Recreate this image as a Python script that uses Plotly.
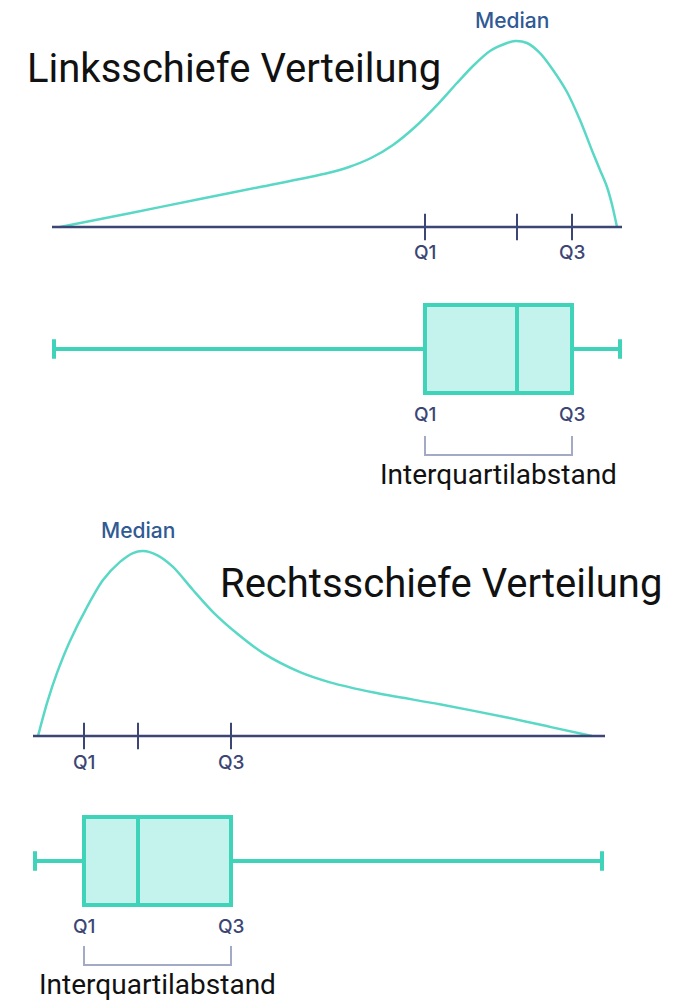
import plotly.graph_objects as go

# --- data -------------------------------------------------------------
# left-skewed density (x position, relative height)
left_x = [60, 131, 200, 260, 328, 349, 371, 393, 415, 437, 457, 473, 490,
          507, 515, 527, 540, 553, 567, 580, 593, 600, 607, 612, 617]
left_y = [0, 0.075, 0.15, 0.214, 0.289, 0.321, 0.369, 0.439, 0.535, 0.652,
          0.770, 0.861, 0.941, 0.984, 0.995, 0.984, 0.930, 0.840, 0.722,
          0.572, 0.396, 0.305, 0.214, 0.120, 0]
left_axis = [52, 622]
left_quart = [425, 517, 572]          # Q1, median, Q3
left_fence = [54, 620]

# right-skewed density
right_x = [38, 47, 57, 70, 87, 103, 120, 133, 143, 157, 173, 193, 213, 238,
           264, 300, 330, 374, 441, 507, 551, 592]
right_y = [0, 0.178, 0.341, 0.514, 0.697, 0.843, 0.941, 0.989, 1.0, 0.978,
           0.914, 0.789, 0.670, 0.550, 0.445, 0.345, 0.290, 0.235, 0.170,
           0.100, 0.048, 0]
right_axis = [33, 605]
right_quart = [84, 138, 231]
right_fence = [35, 602]

q_labels = ["Q1", "Q3"]

CURVE = "#5ad8c6"
BOX_LINE = "#3fd4b9"
BOX_FILL = "#c3f3ec"
NAVY = "#3b4675"
MED_BLUE = "#2f5a93"
BRACKET = "#a3aac6"
FONT = "Roboto"

# the page puts the plot 8px in from the top-left corner
OFF = 8
W, H = 683 - OFF, 1000 - OFF


def py(p):
    """page pixel row -> paper fraction"""
    return 1 - (p - OFF) / H


def dom(p_top, p_bottom):
    return [py(p_bottom), py(p_top)]


fig = go.Figure()


def add_panel(curve_x, curve_y, axis_ends, quart, fence, yc, yb):
    # density curve
    fig.add_trace(go.Scatter(
        x=curve_x, y=curve_y, mode="lines",
        line=dict(color=CURVE, width=2.5, shape="spline", smoothing=0.8),
        yaxis=yc, hoverinfo="skip"))
    # baseline
    fig.add_trace(go.Scatter(
        x=axis_ends, y=[0, 0], mode="lines", line=dict(color=NAVY, width=2.5),
        yaxis=yc, hoverinfo="skip"))
    # quartile ticks
    fig.add_trace(go.Scatter(
        x=quart, y=[0] * len(quart), mode="markers", cliponaxis=False,
        marker=dict(symbol="line-ns", size=19, line=dict(color=NAVY, width=2)),
        yaxis=yc, hoverinfo="skip"))
    # box plot
    fig.add_trace(go.Box(
        y=[0], q1=[quart[0]], median=[quart[1]], q3=[quart[2]],
        lowerfence=[fence[0]], upperfence=[fence[1]], orientation="h",
        width=1, whiskerwidth=0.22, fillcolor=BOX_FILL,
        line=dict(color=BOX_LINE, width=4), boxpoints=False,
        yaxis=yb, hoverinfo="skip"))


add_panel(left_x, left_y, left_axis, left_quart, left_fence, "y", "y2")
add_panel(right_x, right_y, right_axis, right_quart, right_fence, "y3", "y4")

annotations = []
QFONT = dict(family="Inter", size=19, color=NAVY, weight=500)


def q_annots(quart, yc, yb, shift_c, shift_b, med_dx, med_shift):
    for lab, xv in zip(q_labels, [quart[0], quart[2]]):
        annotations.append(dict(x=xv, y=0, xref="x", yref=yc, text=lab, showarrow=False,
                                yanchor="top", yshift=shift_c, font=QFONT))
        annotations.append(dict(x=xv, y=-0.5, xref="x", yref=yb, text=lab, showarrow=False,
                                yanchor="top", yshift=shift_b, font=QFONT))
    annotations.append(dict(x=quart[1], y=1.0, xref="x", yref=yc, text="Median",
                            showarrow=False, yanchor="bottom", yshift=med_shift, xshift=med_dx,
                            font=dict(family="Inter", size=21, color=MED_BLUE, weight=500)))


q_annots(left_quart, "y", "y2", -12, -8, -5, 5)
q_annots(right_quart, "y3", "y4", -13, -8, 0, 6)

shapes = []


def bracket(quart, top, bottom, text_y):
    q1, q3 = quart[0], quart[2]
    shapes.append(dict(type="path", xref="x", yref="paper",
                       path=f"M {q1},{py(top)} L {q1},{py(bottom)} L {q3},{py(bottom)} L {q3},{py(top)}",
                       line=dict(color=BRACKET, width=2)))
    annotations.append(dict(x=(q1 + q3) / 2, y=py(text_y), xref="x", yref="paper",
                            text="Interquartilabstand", showarrow=False, yanchor="middle",
                            font=dict(family=FONT, size=28, color="#111111")))


bracket(left_quart, 436, 455, 474)
bracket(right_quart, 946, 965, 984)

annotations.append(dict(x=(25 - OFF) / W, y=py(68), xref="paper", yref="paper",
                        text="Linksschiefe Verteilung", showarrow=False,
                        xanchor="left", yanchor="middle",
                        font=dict(family=FONT, size=40, color="#111111")))
annotations.append(dict(x=(218 - OFF) / W, y=py(583), xref="paper", yref="paper",
                        text="Rechtsschiefe Verteilung", showarrow=False,
                        xanchor="left", yanchor="middle",
                        font=dict(family=FONT, size=40, color="#111111")))

hidden = dict(visible=False, showgrid=False, zeroline=False, fixedrange=True)

fig.update_layout(
    width=W, height=H,
    margin=dict(l=0, r=0, t=0, b=0),
    paper_bgcolor="white", plot_bgcolor="rgba(0,0,0,0)",
    showlegend=False,
    xaxis=dict(range=[OFF, 683], domain=[0, 1], **hidden),
    # density panels: 0 at baseline row, 1 at peak row, padded by 0.1
    yaxis=dict(range=[-0.1, 1.1], domain=dom(21.3, 245.7), anchor="x", **hidden),
    yaxis2=dict(range=[-0.6, 0.6], domain=dom(296.2, 401.8), anchor="x", **hidden),
    yaxis3=dict(range=[-0.1, 1.1], domain=dom(532.5, 754.5), anchor="x", **hidden),
    yaxis4=dict(range=[-0.6, 0.6], domain=dom(808.2, 913.8), anchor="x", **hidden),
    annotations=annotations,
    shapes=shapes,
)

fig.write_html("out.html")
